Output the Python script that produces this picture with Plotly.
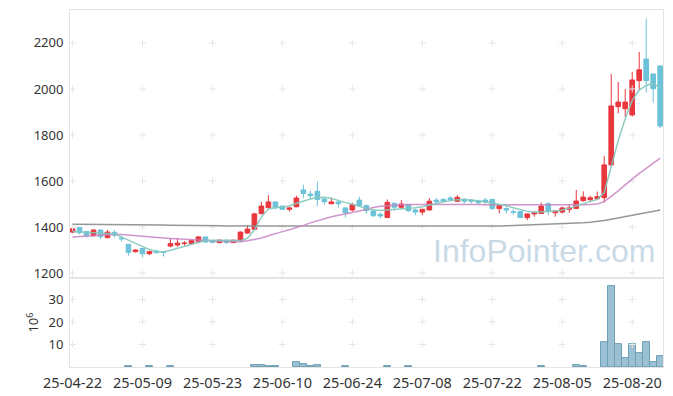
import plotly.graph_objects as go
from plotly.subplots import make_subplots

dates = ["25-04-22","25-04-23","25-04-24","25-04-25","25-04-28","25-04-29","25-04-30",
         "25-05-02","25-05-07","25-05-08","25-05-09",
         "25-05-12","25-05-13","25-05-14","25-05-15","25-05-16",
         "25-05-19","25-05-20","25-05-21","25-05-22","25-05-23",
         "25-05-26","25-05-27","25-05-28","25-05-29","25-05-30",
         "25-06-02","25-06-04","25-06-05","25-06-09","25-06-10",
         "25-06-11","25-06-12","25-06-13",
         "25-06-16","25-06-17","25-06-18","25-06-19","25-06-20",
         "25-06-23","25-06-24","25-06-25","25-06-26","25-06-27",
         "25-06-30","25-07-01","25-07-02","25-07-03","25-07-04",
         "25-07-07","25-07-08","25-07-09","25-07-10","25-07-11",
         "25-07-14","25-07-15","25-07-16","25-07-17","25-07-18",
         "25-07-21","25-07-22","25-07-23","25-07-24","25-07-25",
         "25-07-28","25-07-29","25-07-30","25-07-31","25-08-01",
         "25-08-04","25-08-05","25-08-06","25-08-07","25-08-08",
         "25-08-11","25-08-12","25-08-13","25-08-14",
         "25-08-18","25-08-19","25-08-20","25-08-21","25-08-22",
         "25-08-25","25-08-26"]

open_ = [1378,1398,1380,1362,1387,1354,1377,1352,1325,1293,1307,1284,1296,1291,1317,1322,1328,1328,1336,1357,
         1340,1332,1343,1332,1341,1374,1390,1458,1484,1509,1491,1477,1488,1561,1543,1555,1522,1501,1509,1483,
         1474,1517,1494,1470,1455,1441,1503,1486,1497,1474,1465,1474,1517,1520,1526,1512,1520,1517,1513,1517,
         1520,1480,1480,1466,1467,1441,1457,1459,1501,1462,1465,1477,1481,1514,1519,1523,1528,1670,1923,1914,
         1887,2036,2130,2065,2100]
high = [1397,1400,1382,1389,1390,1387,1386,1362,1326,1304,1308,1297,1298,1293,1348,1352,1339,1345,1360,1358,
        1342,1345,1344,1344,1381,1409,1462,1510,1538,1510,1493,1486,1536,1584,1558,1597,1524,1523,1511,1485,
        1506,1532,1496,1474,1462,1520,1506,1517,1500,1480,1478,1526,1525,1525,1535,1538,1526,1521,1519,1526,
        1522,1494,1488,1477,1468,1458,1470,1507,1509,1471,1488,1496,1561,1555,1536,1554,1709,2065,2030,1999,
        2074,2161,2307,2067,2100]
low = [1373,1368,1354,1360,1348,1351,1354,1336,1275,1289,1268,1278,1286,1272,1312,1314,1319,1325,1334,1332,
       1331,1330,1326,1331,1338,1371,1387,1455,1481,1477,1476,1467,1486,1525,1522,1491,1496,1500,1484,1441,
       1467,1491,1459,1445,1436,1439,1471,1477,1465,1451,1451,1471,1500,1509,1512,1509,1503,1503,1498,1500,
       1474,1459,1459,1454,1440,1430,1445,1457,1452,1445,1459,1462,1478,1510,1510,1517,1507,1662,1894,1877,
       1880,1996,1984,1941,1829]
close = [1392,1375,1362,1387,1358,1378,1365,1349,1290,1300,1284,1293,1288,1290,1328,1330,1330,1341,1357,1335,
         1333,1343,1333,1343,1378,1391,1457,1491,1509,1484,1477,1483,1526,1546,1536,1520,1510,1509,1501,1462,
         1497,1494,1471,1449,1448,1507,1486,1500,1471,1465,1477,1512,1510,1513,1520,1529,1512,1512,1506,1509,
         1480,1493,1474,1464,1441,1457,1462,1491,1471,1470,1483,1483,1513,1530,1527,1532,1670,1926,1943,1943,
         2039,2083,2036,2001,1839]

ma_short = [1380,1379,1378,1376,1374,1372,1370,1357,1343,1329,1315,1302,1293,1292,1299,1307,1315,1324,1334,1341,
            1342,1342,1340,1340,1341,1351,1387,1445,1478,1484,1486,1491,1503,1513,1522,1528,1529,1525,1514,1506,
            1499,1490,1480,1475,1472,1474,1476,1478,1482,1484,1488,1494,1502,1510,1516,1519,1520,1518,1514,1510,
            1505,1498,1492,1484,1476,1468,1464,1464,1467,1470,1474,1482,1492,1502,1512,1520,1550,1660,1775,1870,
            1950,1995,2015,2025,2003]
ma_mid = [1357,1358,1360,1362,1365,1367,1368,1367,1364,1361,1358,1356,1354,1352,1350,1348,1346,1344,1342,1340,
          1338,1338,1337,1336,1336,1340,1345,1352,1362,1372,1380,1388,1396,1407,1418,1428,1437,1445,1451,1456,
          1463,1470,1478,1485,1490,1493,1495,1497,1498,1498,1499,1500,1501,1501,1500,1500,1499,1499,1498,1497,
          1497,1496,1496,1495,1495,1494,1494,1494,1494,1495,1495,1495,1496,1497,1498,1500,1510,1532,1557,1583,
          1610,1633,1655,1678,1699]
ma_long = [1412,1412,1412,1412,1412,1412,1412,1412,1411,1411,1410,1410,1409,1409,1408,1408,1407,1407,1406,1406,
           1405,1405,1404,1404,1404,1403,1403,1403,1402,1402,1402,1402,1401,1401,1401,1401,1401,1401,1401,1401,
           1401,1401,1401,1401,1401,1401,1401,1401,1402,1402,1402,1402,1402,1403,1403,1403,1403,1403,1404,1404,
           1404,1404,1405,1406,1407,1408,1409,1410,1411,1412,1413,1415,1417,1419,1421,1424,1428,1434,1440,1446,
           1452,1458,1463,1468,1474]

volume = [0,0,0,0,0,0,0,0,0.3,0,0,0.3,0,0,0.3,0,0,0,0,0,
          0,0,0,0,0,0,0.9,0.9,0.3,0.3,0,0,2.0,1.4,0.4,1.0,0,0,0,0.3,
          0,0,0,0,0,0.3,0,0,0.3,0,0,0,0,0,0,0,0,0,0,0,
          0,0,0,0,0,0,0,0.4,0,0,0,0,0.9,0.4,0,0,10.9,35.9,10.0,3.8,
          10.0,6.1,10.9,2.1,4.7]

price_ticks = [1200, 1400, 1600, 1800, 2000, 2200]
vol_ticks = [10, 20, 30]
tick_step = 10

x = list(range(len(dates)))
xtick_pos = x[::tick_step]
xtick_text = [dates[i] for i in xtick_pos]
vx = [i for i, v in enumerate(volume) if v > 0]
vy = [volume[i] for i in vx]

fig = make_subplots(rows=2, cols=1, shared_xaxes=True, vertical_spacing=0,
                    row_heights=[0.751, 0.249])

grid_col = "#e6e6e6"
fig.add_trace(go.Scatter(x=[xx for xx in xtick_pos for _ in price_ticks],
                         y=[yy for _ in xtick_pos for yy in price_ticks],
                         mode="markers", hoverinfo="skip", showlegend=False,
                         marker=dict(symbol="cross-thin", size=5,
                                     line=dict(color=grid_col, width=1))), row=1, col=1)
fig.add_trace(go.Scatter(x=[xx for xx in xtick_pos for _ in vol_ticks],
                         y=[yy for _ in xtick_pos for yy in vol_ticks],
                         mode="markers", hoverinfo="skip", showlegend=False,
                         marker=dict(symbol="cross-thin", size=5,
                                     line=dict(color=grid_col, width=1))), row=2, col=1)

fig.add_trace(go.Candlestick(x=x, open=open_, high=high, low=low, close=close,
                             increasing=dict(line=dict(color="#e8373d", width=1), fillcolor="#e8373d"),
                             decreasing=dict(line=dict(color="#6cc2d8", width=1), fillcolor="#6cc2d8"),
                             whiskerwidth=0, showlegend=False), row=1, col=1)

fig.add_trace(go.Scatter(x=x, y=ma_long, mode="lines", showlegend=False,
                         line=dict(color="rgba(140,140,140,0.9)", width=1.5)), row=1, col=1)
fig.add_trace(go.Scatter(x=x, y=ma_mid, mode="lines", showlegend=False,
                         line=dict(color="rgba(200,130,195,0.85)", width=1.5)), row=1, col=1)
fig.add_trace(go.Scatter(x=x, y=ma_short, mode="lines", showlegend=False,
                         line=dict(color="rgba(130,200,190,0.9)", width=1.5)), row=1, col=1)

fig.add_trace(go.Bar(x=vx, y=vy, width=1, showlegend=False,
                     marker=dict(color="rgba(130,176,200,0.8)",
                                 line=dict(color="#6d9fb6", width=1))), row=2, col=1)

fig.add_annotation(text="InfoPointer.com", xref="paper", yref="paper",
                   x=0.99, y=0.326, xanchor="right", yanchor="middle", showarrow=False,
                   font=dict(family="Liberation Sans, Arial", size=32, color="#c9dae6"))

ytick_font = dict(family="Noto Sans", size=13, color="#333333")
xtick_font = dict(family="Noto Sans", size=14.5, color="#333333")
frame = "#e4e4e4"
clear = "rgba(0,0,0,0)"

fig.update_xaxes(range=[-0.36, 84.4], showgrid=False, zeroline=False, automargin=False,
                 showline=True, linecolor=frame, linewidth=1, mirror=True,
                 ticks="outside", ticklen=3, tickcolor=clear,
                 tickvals=xtick_pos, ticktext=xtick_text, tickfont=xtick_font,
                 rangeslider_visible=False)
fig.update_xaxes(showticklabels=False, row=1, col=1)
fig.update_yaxes(range=[1178, 2343], tickvals=price_ticks, showgrid=False, zeroline=False,
                 showline=True, linecolor=frame, linewidth=1, mirror=True,
                 ticks="outside", ticklen=3, tickcolor=clear,
                 automargin=False, tickfont=ytick_font, row=1, col=1)
fig.update_yaxes(range=[0, 39.5], tickvals=vol_ticks, showgrid=False, zeroline=False,
                 showline=True, linecolor=frame, linewidth=1, mirror=True,
                 ticks="outside", ticklen=3, tickcolor=clear,
                 automargin=False, tickfont=ytick_font,
                 title=dict(text="10<sup>6</sup>", font=ytick_font, standoff=6),
                 row=2, col=1)

fig.update_layout(width=673, height=396, margin=dict(l=61.5, r=18, t=2, b=37),
                  paper_bgcolor="white", plot_bgcolor="white",
                  bargap=0, boxgap=0.05, boxgroupgap=0.3, showlegend=False)

fig.write_html("out.html")
